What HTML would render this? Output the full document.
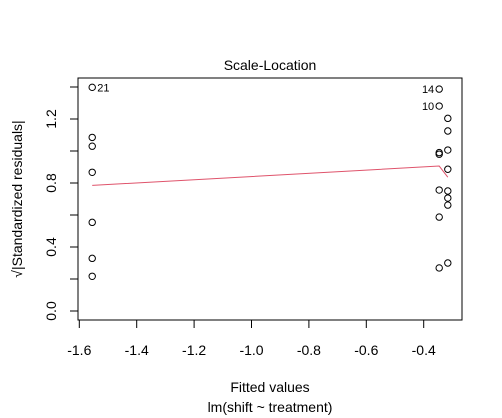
<!DOCTYPE html>
<html><head><meta charset="utf-8"><style>
body{margin:0;background:#fff}
svg{display:block;font-family:"Liberation Sans",Arial,sans-serif}
</style></head><body>
<svg id="chart" width="502" height="418" xmlns="http://www.w3.org/2000/svg">
<rect x="78" y="78" width="384" height="242" fill="none" stroke="#000" stroke-width="1"/>
<text x="270" y="70" font-size="14" text-anchor="middle">Scale-Location</text>
<text x="270" y="392" font-size="14" text-anchor="middle">Fitted values</text>
<text x="270" y="412" font-size="14" text-anchor="middle">lm(shift ~ treatment)</text>
<text transform="translate(22,199) rotate(-90)" font-size="14" text-anchor="middle">√|Standardized residuals|</text>
<g id="xt"></g><g id="yt"></g><g id="marks"></g>
</svg>
<script>
const xTicks=[-1.6,-1.4,-1.2,-1.0,-0.8,-0.6,-0.4];
const xTickLabels=["-1.6","-1.4","-1.2","-1.0","-0.8","-0.6","-0.4"];
const yTicks=[0,0.2,0.4,0.6,0.8,1.0,1.2,1.4];
const yTickLabels=["0.0","","0.4","","0.8","","1.2",""];
const fittedX=[-1.555,-1.555,-1.555,-1.555,-1.555,-1.555,-1.555,
 -0.346,-0.346,-0.316,-0.316,-0.346,-0.346,-0.316,-0.316,-0.346,-0.316,-0.316,-0.316,-0.346,-0.346,-0.316];
const residY=[1.398,1.085,1.03,0.867,0.554,0.329,0.217,
 1.387,1.281,1.204,1.125,0.99,0.98,1.006,0.886,0.756,0.75,0.706,0.662,0.587,0.269,0.3];
const pointLabels=[[0,"21"],[7,"14"],[8,"10"]];
const smoothX=[-1.555,-0.346,-0.316];
const smoothY=[0.785,0.906,0.836];
const NS="http://www.w3.org/2000/svg";
const sx=v=>79.3+(v+1.6)*287, sy=v=>311-160*v;
function mk(t,a,p){const e=document.createElementNS(NS,t);for(const k in a)e.setAttribute(k,a[k]);p.appendChild(e);return e;}
const xt=document.getElementById('xt'),yt=document.getElementById('yt'),mg=document.getElementById('marks');
xTicks.forEach((v,i)=>{const l=mk('line',{x1:sx(v),x2:sx(v),y1:320,y2:328,stroke:'#000'},xt);


const t=mk('text',{x:sx(v),y:355,'font-size':14,'text-anchor':'middle'},xt);t.textContent=xTickLabels[i];

});
yTicks.forEach((v,i)=>{const l=mk('line',{x1:70,x2:78,y1:sy(v),y2:sy(v),stroke:'#000'},yt);


if(yTickLabels[i]){const t=mk('text',{transform:`translate(56,${sy(v)}) rotate(-90)`,'font-size':14,'text-anchor':'middle'},yt);t.textContent=yTickLabels[i];

}});
fittedX.forEach((v,i)=>{const c=mk('circle',{cx:sx(v),cy:sy(residY[i]),r:3.2,fill:'none',stroke:'#000','stroke-width':1},mg);

});
pointLabels.forEach(([i,s])=>{const left=fittedX[i]>-1;
const t=mk('text',{x:sx(fittedX[i])+(left?-5:5),y:sy(residY[i])+4,'font-size':11,'text-anchor':left?'end':'start'},mg);t.textContent=s;

});
const p=mk('polyline',{points:smoothX.map((v,i)=>sx(v)+','+sy(smoothY[i])).join(' '),fill:'none',stroke:'#DF536B','stroke-width':1},mg);


</script>
</body></html>
